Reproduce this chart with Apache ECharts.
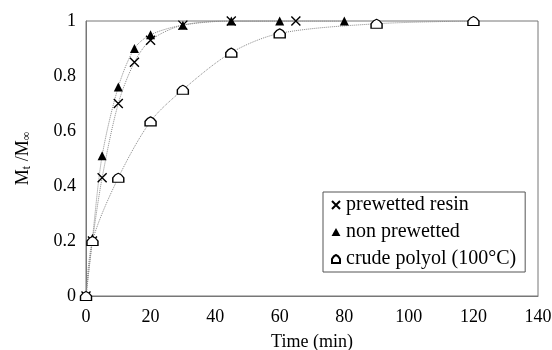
<!DOCTYPE html>
<html>
<head>
<meta charset="utf-8">
<script src="https://cdn.jsdelivr.net/npm/echarts@6/dist/echarts.min.js"></script>
<style>
  html, body { margin: 0; padding: 0; background: #fff; }
  #chart { width: 552px; height: 350px; }
</style>
</head>
<body>
<div id="chart"></div>
<script>
// sorption data: Mt/Minf vs time (min)
const timePrewet = [0, 2, 5, 10, 15, 20, 30, 45, 65];
const mtPrewet = [0, 0.20, 0.43, 0.70, 0.85, 0.93, 0.985, 1.0, 1.0];

const timeNonPrewet = [0, 2, 5, 10, 15, 20, 30, 45, 60, 80];
const mtNonPrewet = [0, 0.21, 0.51, 0.76, 0.90, 0.95, 0.985, 1.0, 1.0, 1.0];

const timeCrude = [0, 2, 10, 20, 30, 45, 60, 90, 120];
const mtCrude = [0, 0.20, 0.43, 0.635, 0.75, 0.885, 0.955, 0.99, 1.0];

const seriesNames = ['prewetted resin', 'non prewetted', 'crude polyol (100°C)'];

const FONT = '"Liberation Serif", "DejaVu Serif", serif';
const crossPath = 'path://M0,0L10,10M10,0L0,10';
const housePath = 'path://M0,10L0,5Q2,1,5,0Q8,1,10,5L10,10Z';
const triPath = 'path://M5,0L10,9L0,9Z';

const pairs = (xs, ys) => xs.map((x, i) => [x, ys[i]]);

const chart = echarts.init(document.getElementById('chart'));

const lineCommon = {
  type: 'line',
  smooth: 0.3,
  showAllSymbol: true,
  lineStyle: { color: '#888', width: 1, type: 'dotted' },
  emphasis: { disabled: true },
  z: 3
};

const option = {
  animation: false,
  backgroundColor: '#fff',
  textStyle: { fontFamily: FONT, color: '#000' },
  grid: {
    left: 86, right: 14, top: 21, bottom: 54,
    outerBoundsMode: 'none',
    show: true, borderColor: '#777', borderWidth: 1
  },
  legend: {
    orient: 'vertical',
    left: 323, top: 192,
    borderColor: '#555', borderWidth: 1,
    padding: [3, 9, 3, 8],
    itemGap: 7,
    itemWidth: 10, itemHeight: 8,
    itemTextGap: 4,
    textStyle: { fontFamily: FONT, fontSize: 20, color: '#000' },
    data: [
      { name: seriesNames[0], icon: crossPath },
      { name: seriesNames[1], icon: triPath },
      { name: seriesNames[2], icon: housePath }
    ]
  },
  xAxis: {
    type: 'value',
    min: 0, max: 140, interval: 20,
    name: 'Time (min)',
    nameLocation: 'middle',
    nameGap: 37,
    nameTextStyle: { fontFamily: FONT, fontSize: 18, color: '#000' },
    axisLine: { show: true, lineStyle: { color: '#777', width: 1 } },
    axisTick: { show: false },
    splitLine: { show: false },
    axisLabel: { fontFamily: FONT, fontSize: 18, color: '#000', margin: 12 }
  },
  yAxis: {
    type: 'value',
    min: 0, max: 1, interval: 0.2,
    name: 'M{sub|t} /M{sub|∞}',
    nameLocation: 'middle',
    nameGap: 53,
    nameRotate: 90,
    nameTextStyle: {
      fontFamily: FONT, fontSize: 18, color: '#000',
      rich: { sub: { fontFamily: FONT, fontSize: 12, color: '#000', verticalAlign: 'bottom', padding: [8, 0, 0, 0] } }
    },
    axisLine: { show: true, lineStyle: { color: '#777', width: 1 } },
    axisTick: { show: false },
    splitLine: { show: false },
    axisLabel: { fontFamily: FONT, fontSize: 18, color: '#000', margin: 10 }
  },
  series: [
    Object.assign({}, lineCommon, {
      name: seriesNames[0],
      data: pairs(timePrewet, mtPrewet),
      symbol: crossPath,
      symbolSize: 9,
      itemStyle: { color: '#000', borderColor: '#000', borderWidth: 1.4 }
    }),
    Object.assign({}, lineCommon, {
      name: seriesNames[1],
      data: pairs(timeNonPrewet, mtNonPrewet),
      symbol: triPath,
      symbolSize: [9, 9],
      itemStyle: { color: '#000', borderColor: '#000', borderWidth: 0 }
    }),
    Object.assign({}, lineCommon, {
      name: seriesNames[2],
      data: pairs(timeCrude, mtCrude),
      symbol: housePath,
      symbolSize: [11, 9],
      itemStyle: { color: '#fff', borderColor: '#000', borderWidth: 1.3 }
    })
  ]
};

chart.setOption(option);
</script>
</body>
</html>
